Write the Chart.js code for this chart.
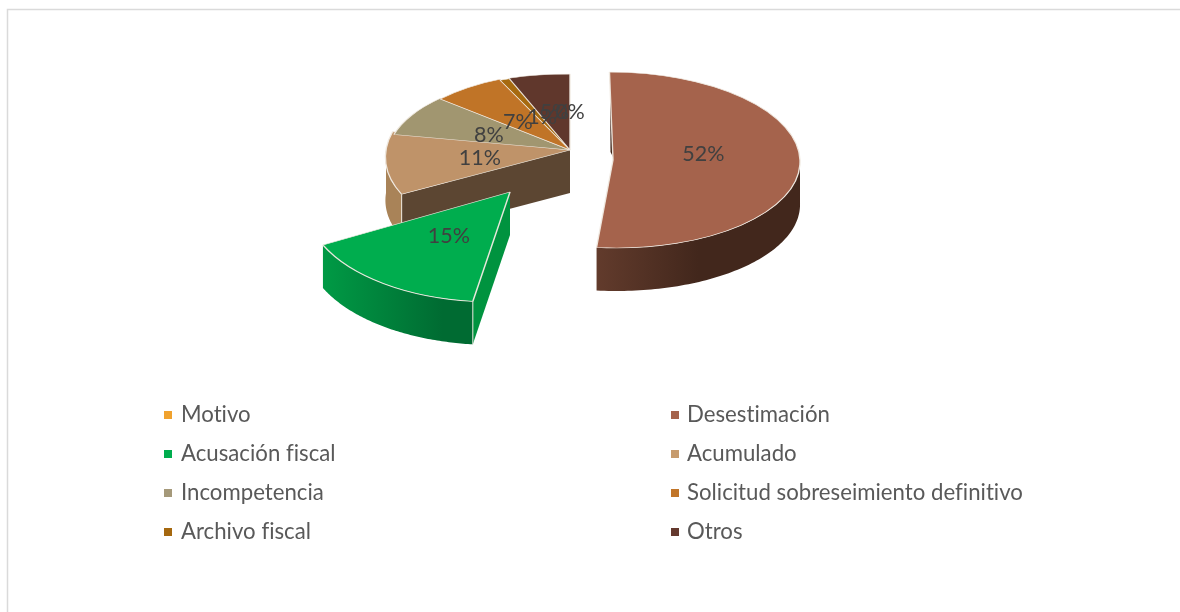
<!DOCTYPE html>
<html>
<head>
<meta charset="utf-8">
<style>
html,body{margin:0;padding:0;background:#fff;}
#wrap{width:1180px;height:612px;position:relative;}
canvas{display:block;}
</style>
<script src="https://cdn.jsdelivr.net/npm/chart.js@4"></script>
</head>
<body>
<div id="wrap"><canvas id="c" width="1180" height="612"></canvas></div>
<script>
const categories = ['Motivo','Desestimación','Acusación fiscal','Acumulado','Incompetencia','Solicitud sobreseimiento definitivo','Archivo fiscal','Otros'];
const values = [0,51.7,15.3,11.2,8.3,7.0,1.2,5.3];
const topColors = ['#F0A22E','#A5634C','#00AD4E','#BF9369','#A19670','#C07427','#A66A0F','#60372C'];
const legendColors = ['#F0A22E','#A5634C','#00AD4E','#C69B6D','#A5997A','#C17529','#A5680F','#64392E'];

// Screen projection of each slice of the 3D pie: apex, elliptical radii, shear, label nudge.
const projection = [
  {ax:570,ay:150,rx:187,ry:76,sx:0,lx:0,ly:0},
  {ax:613,ay:160,rx:187,ry:88,sx:0.04,lx:-3,ly:-8},
  {ax:510,ay:192,rx:205,ry:110,sx:-0.14,lx:2,ly:-2},
  {ax:570,ay:150,rx:184,ry:92,sx:-0.16,lx:2,ly:1},
  {ax:570,ay:150,rx:181.5,ry:78,sx:-0.12,lx:-2,ly:2},
  {ax:570,ay:150,rx:171,ry:77,sx:0.03,lx:-1,ly:3},
  {ax:570,ay:150,rx:176,ry:76,sx:0,lx:4,ly:2},
  {ax:570,ay:150,rx:187,ry:76,sx:0,lx:0,ly:0}
];
const DEPTH = 43;
const wallStyles = [
  null,
  {stops:[[0,'#623B2C'],[0.5,'#42271C'],[1,'#42271C']], face:'#42271C'},
  {stops:[[0,'#009A45'],[0.8,'#006B32'],[1,'#006B32']], face:'#00933F'},
  {stops:[[0,'#A98358'],[1,'#A98358']], face:'#5C4632'},
  {stops:[[0,'#7f7658'],[1,'#7f7658']], face:'#7f7658'},
  {stops:[[0,'#8a5420'],[1,'#8a5420']], face:'#8a5420'},
  {stops:[[0,'#7a4e0b'],[1,'#7a4e0b']], face:'#7a4e0b'},
  {stops:[[0,'#42271C'],[1,'#42271C']], face:'#42271C'}
];
const EDGE = 'rgba(240,234,226,0.95)';
const legendCols = [[164,181],[671,687]];
const legendRows = [415,454,493,532];
const LEGEND_FONT = '22.2px Lato, sans-serif';
const LABEL_FONT = '21.5px Lato, sans-serif';

function project(p,a,f){
  const dy = (f===undefined?1:f)*p.ry*Math.sin(a);
  const dx = (f===undefined?1:f)*p.rx*Math.cos(a);
  return [p.ax+dx+p.sx*dy,p.ay+dy];
}

const pie3d = {
  id:'pie3d',
  afterUpdate(chart){
    const meta = chart.getDatasetMeta(0);
    meta.data.forEach((el,i)=>{
      if(el._wrapped) return;
      el._wrapped = true;
      const base = el.draw;
      el.draw = function(ctx){
        const p = projection[i];
        ctx.save();
        ctx.transform(1,0,p.sx,1,p.ax,p.ay);
        ctx.scale(p.rx/this.outerRadius,p.ry/this.outerRadius);
        ctx.translate(-this.x,-this.y);
        base.call(this,ctx);
        ctx.restore();
      };
    });
  },
  beforeDraw(chart){
    const ctx = chart.ctx;
    ctx.save();
    ctx.fillStyle='#fff';
    ctx.fillRect(0,0,chart.width,chart.height);
    ctx.strokeStyle='#DADADA';
    ctx.lineWidth=1.5;
    ctx.beginPath();
    ctx.moveTo(7.5,chart.height);ctx.lineTo(7.5,9.5);ctx.lineTo(chart.width,9.5);
    ctx.stroke();
    ctx.restore();
  },
  beforeDatasetsDraw(chart){
    const ctx = chart.ctx;
    const arcs = chart.getDatasetMeta(0).data;
    const order = [7,6,5,4,3,1,2];
    ctx.save();
    order.forEach(i=>{
      const el = arcs[i], p = projection[i], st = wallStyles[i];
      const a0 = el.startAngle, a1 = el.endAngle;
      // cut face along the start edge
      if(Math.cos(a0) < -0.001 && a0 > 0){
        const e = project(p,a0);
        ctx.fillStyle = st.face;
        ctx.beginPath();
        ctx.moveTo(p.ax,p.ay);ctx.lineTo(e[0],e[1]);ctx.lineTo(e[0],e[1]+DEPTH);ctx.lineTo(p.ax,p.ay+DEPTH);
        ctx.closePath();ctx.fill();
      }
      // outer rim, front half only
      const s = Math.max(a0,0), t = Math.min(a1,Math.PI);
      if(t > s){
        const ps = project(p,s), pe = project(p,t);
        const x0 = Math.min(ps[0],pe[0]), x1 = Math.max(ps[0],pe[0]);
        const g = ctx.createLinearGradient(x0,0,x1,0);
        st.stops.forEach(c=>g.addColorStop(c[0],c[1]));
        ctx.fillStyle = g;
        const steps = 80;
        ctx.beginPath();
        for(let k=0;k<=steps;k++){
          const q = project(p,s+(t-s)*k/steps);
          if(k===0) ctx.moveTo(q[0],q[1]); else ctx.lineTo(q[0],q[1]);
        }
        for(let k=steps;k>=0;k--){
          const q = project(p,s+(t-s)*k/steps);
          ctx.lineTo(q[0],q[1]+DEPTH);
        }
        ctx.closePath();ctx.fill();
        // light edges at the corners of the rim
        ctx.strokeStyle = EDGE;ctx.lineWidth = 1;
        ctx.beginPath();
        if(a0>0){ctx.moveTo(ps[0],ps[1]);ctx.lineTo(ps[0],ps[1]+DEPTH);}
        ctx.stroke();
      }
      // thin dark sliver of the face along the 12 o'clock edge
      if(i===1){
        const top = project(p,a0);
        ctx.fillStyle='#3E2419';
        ctx.beginPath();
        ctx.moveTo(top[0]+0.5,top[1]+8);
        ctx.lineTo(p.ax-2.5,p.ay-8);
        ctx.lineTo(p.ax+1,p.ay-1);
        ctx.lineTo(top[0]+2,top[1]+8);
        ctx.closePath();ctx.fill();
      }
    });
    ctx.restore();
  },
  afterDatasetsDraw(chart){
    const ctx = chart.ctx;
    const arcs = chart.getDatasetMeta(0).data;
    ctx.save();
    ctx.font = LABEL_FONT;
    ctx.fillStyle = '#404040';
    ctx.textAlign='center';ctx.textBaseline='middle';
    arcs.forEach((el,i)=>{
      const p = projection[i], m = (el.startAngle+el.endAngle)/2;
      const q = project(p,m,0.5);
      ctx.fillText(Math.round(values[i])+'%',q[0]+p.lx,q[1]+p.ly);
    });
    ctx.font = LEGEND_FONT;
    ctx.letterSpacing = '0.01px';
    ctx.textAlign='left';
    categories.forEach((name,i)=>{
      const col = legendCols[i%2], y = legendRows[Math.floor(i/2)];
      ctx.fillStyle = legendColors[i];
      ctx.fillRect(col[0],y-4,8,8);
      ctx.fillStyle='#595959';
      ctx.fillText(name,col[1],y);
    });
    ctx.restore();
  }
};

new Chart(document.getElementById('c'),{
  type:'pie',
  data:{labels:categories,datasets:[{
    data:values,
    backgroundColor:topColors,
    borderColor:EDGE,
    borderWidth:1.4,
    clip:false
  }]},
  options:{
    responsive:false,
    animation:false,
    radius:187,
    events:[],
    layout:{padding:0},
    plugins:{legend:{display:false},tooltip:{enabled:false},title:{display:false}}
  },
  plugins:[pie3d]
});
</script>
</body>
</html>
